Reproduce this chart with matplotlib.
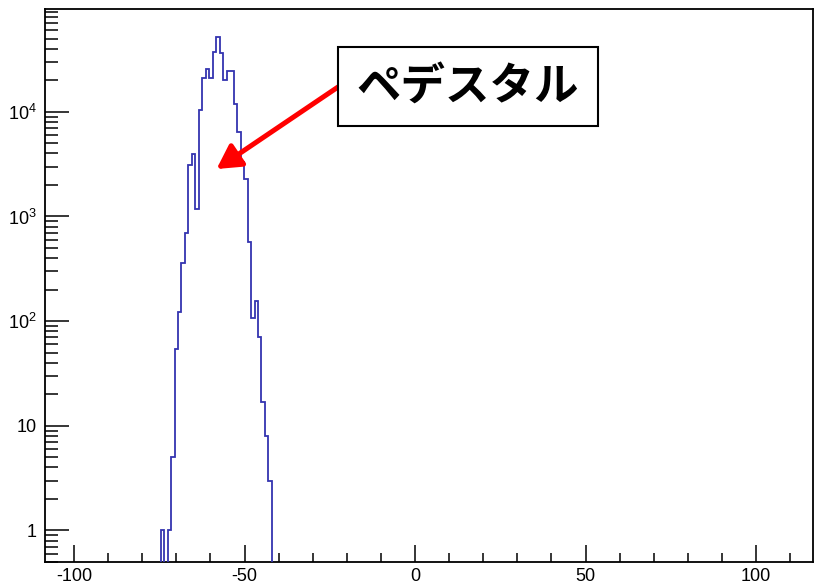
import matplotlib
matplotlib.use("Agg")
import matplotlib.pyplot as plt
import matplotlib.ticker as mticker
from matplotlib.patches import Rectangle
import numpy as np

plt.rcParams["font.family"] = ["Liberation Sans", "DejaVu Sans"]
plt.rcParams["mathtext.fontset"] = "custom"
plt.rcParams["mathtext.rm"] = "Liberation Sans"
plt.rcParams["mathtext.it"] = "Liberation Sans:italic"

# ── DATA ──────────────────────────────────────────────────────────────────────
BIN_START = -74.6
BIN_WIDTH = 1.02
COUNTS = [1, 0, 1, 5, 54, 123, 362, 701, 3070, 3950, 1170, 10500, 21200, 25800,
          21200, 37600, 52100, 36800, 20000, 24700, 24400, 11800, 6400, 3300,
          2280, 570, 107, 157, 71, 17, 8, 3]

X_MAJOR = [-100, -50, 0, 50, 100]
Y_TICKS = [1, 10, 100, 1000, 10000]
Y_TICK_LABELS = ["1", "10", r"$10^{2}$", r"$10^{3}$", r"$10^{4}$"]

ANNOT_TEXT = "ペデスタル"
ANNOT_X = -58.2      # arrow tip (data)
ANNOT_Y = 2840

# ── STYLE ─────────────────────────────────────────────────────────────────────
W, H = 815, 583
LINE_COLOR = "#3434b0"
TICK_SIZE = 13

fig = plt.figure(figsize=(W / 100, H / 100), dpi=100)
ax = fig.add_axes([45 / W, 1 - 562 / H, (813 - 45) / W, (562 - 9) / H])

edges = BIN_START + BIN_WIDTH * np.arange(len(COUNTS) + 1)
counts = np.array(COUNTS, dtype=float)
counts = np.where(counts > 0, counts, 1e-3)
ax.stairs(counts, edges, baseline=1e-3, color=LINE_COLOR, linewidth=1.3, zorder=3)

ax.set_yscale("log")
ax.set_xlim(-108.5, 116.7)
ax.set_ylim(0.5, 9.6e4)

ax.set_xticks(X_MAJOR)
ax.set_xticklabels([str(v) for v in X_MAJOR])
ax.xaxis.set_minor_locator(mticker.MultipleLocator(10))
ax.set_yticks(Y_TICKS)
ax.set_yticklabels(Y_TICK_LABELS)
ax.yaxis.set_minor_locator(mticker.LogLocator(base=10, subs=np.arange(2, 10)))
ax.yaxis.set_minor_formatter(mticker.NullFormatter())

ax.tick_params(axis="x", which="major", direction="in", length=12, width=1.1,
               labelsize=TICK_SIZE, pad=4)
ax.tick_params(axis="x", which="minor", direction="in", length=6.5, width=1.1)
ax.tick_params(axis="y", which="major", direction="in", length=17, width=1.1,
               labelsize=TICK_SIZE, pad=6)
ax.tick_params(axis="y", which="minor", direction="in", length=9, width=1.1)
for s in ax.spines.values():
    s.set_linewidth(1.3)

# annotation box + arrow
fig.add_artist(Rectangle((338 / W, 1 - 126 / H), 260 / W, 79 / H,
                         transform=fig.transFigure, facecolor="white",
                         edgecolor="black", linewidth=1.5, zorder=10))
fig.text(468 / W, 1 - 87 / H, ANNOT_TEXT, ha="center", va="center",
         fontsize=32, fontweight="bold", color="black",
         family=["Noto Sans CJK JP", "DejaVu Sans"], zorder=11)
ax.annotate("", xy=(ANNOT_X, ANNOT_Y), xycoords="data",
            xytext=(338 / W, 1 - 87 / H), textcoords="figure fraction",
            arrowprops=dict(arrowstyle="-|>,head_length=0.9,head_width=0.5",
                            color="#ff0000", lw=3.6, mutation_scale=16,
                            shrinkA=0, shrinkB=0),
            annotation_clip=False, zorder=5)

fig.savefig("out.png", dpi=100)
